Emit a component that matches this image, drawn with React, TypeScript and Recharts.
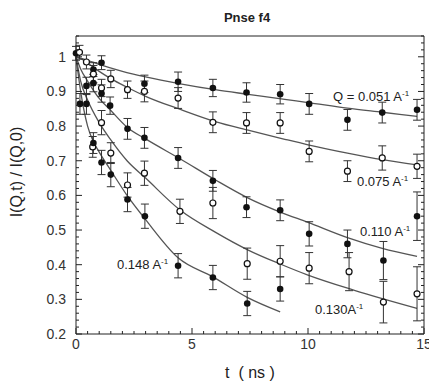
import React from 'react'
import { ComposedChart, XAxis, YAxis, Line, Scatter, ErrorBar } from 'recharts'

// measured points: t (ns), I(Q,t)/I(Q,0), error
const q051T = [0, 0.75, 1.1, 2.95, 4.4, 5.9, 7.35, 8.8, 10.05, 11.7, 13.2, 14.7]
const q051V = [1.01, 0.963, 0.983, 0.922, 0.928, 0.91, 0.897, 0.892, 0.864, 0.818, 0.839, 0.847]
const q051E = [0.02, 0.02, 0.02, 0.025, 0.028, 0.025, 0.028, 0.028, 0.03, 0.03, 0.03, 0.03]

const q075T = [0.15, 0.45, 0.75, 1.1, 1.5, 2.22, 2.95, 4.4, 5.9, 7.35, 8.8, 10.05, 11.7, 13.2, 14.7]
const q075V = [1.013, 0.985, 0.95, 0.91, 0.936, 0.905, 0.9, 0.881, 0.811, 0.809, 0.809, 0.727, 0.67, 0.708, 0.684]
const q075E = [0.02, 0.02, 0.025, 0.025, 0.025, 0.025, 0.03, 0.03, 0.03, 0.03, 0.03, 0.03, 0.03, 0.035, 0.035]

const q110T = [0.45, 0.75, 1.1, 1.47, 2.22, 2.95, 4.4, 5.9, 7.35, 8.8, 10.05, 11.7, 13.25, 14.7]
const q110V = [0.916, 0.924, 0.894, 0.859, 0.792, 0.766, 0.708, 0.642, 0.566, 0.557, 0.489, 0.46, 0.412, 0.54]
const q110E = [0.025, 0.025, 0.025, 0.025, 0.03, 0.03, 0.03, 0.03, 0.03, 0.03, 0.035, 0.04, 0.055, 0.07]

const q130T = [0.72, 1.1, 1.5, 2.22, 2.95, 4.48, 5.9, 7.38, 8.8, 10.05, 11.77, 13.25, 14.7]
const q130V = [0.74, 0.81, 0.722, 0.63, 0.664, 0.554, 0.578, 0.403, 0.41, 0.39, 0.38, 0.292, 0.316]
const q130E = [0.03, 0.035, 0.03, 0.035, 0.035, 0.035, 0.045, 0.045, 0.045, 0.045, 0.055, 0.06, 0.078]

const q148T = [0.17, 0.45, 0.75, 1.1, 1.5, 2.22, 2.97, 4.4, 5.9, 7.38, 8.8]
const q148V = [0.864, 0.864, 0.751, 0.695, 0.66, 0.588, 0.54, 0.397, 0.363, 0.288, 0.33]
const q148E = [0.03, 0.03, 0.03, 0.035, 0.035, 0.035, 0.035, 0.035, 0.035, 0.035, 0.035]

// fitted curves
const fit051T = [0, 0.5, 1, 2, 3, 4.5, 6, 7.5, 9, 10, 11.7, 13.2, 14.7]
const fit051V = [1.0, 0.99, 0.978, 0.958, 0.942, 0.922, 0.905, 0.891, 0.877, 0.868, 0.852, 0.84, 0.828]
const fit075T = [0, 0.2, 0.5, 1, 1.5, 2.2, 3, 4.5, 6, 7.5, 9, 10, 11.7, 13.2, 14.7]
const fit075V = [1.0, 0.995, 0.982, 0.958, 0.937, 0.912, 0.886, 0.848, 0.813, 0.787, 0.762, 0.746, 0.722, 0.703, 0.688]
const fit110T = [0, 0.2, 0.5, 1, 1.5, 2.2, 3, 4.5, 6, 7.4, 8.8, 10, 11.7, 13.2, 14.7]
const fit110V = [1.0, 0.965, 0.93, 0.88, 0.845, 0.797, 0.763, 0.705, 0.645, 0.593, 0.552, 0.522, 0.478, 0.447, 0.424]
const fit130T = [0, 0.2, 0.5, 1, 1.5, 2.2, 3, 4.5, 6, 7.4, 8.8, 10, 12, 14.7]
const fit130V = [1.0, 0.93, 0.875, 0.81, 0.76, 0.7, 0.65, 0.557, 0.494, 0.443, 0.402, 0.37, 0.326, 0.274]
const fit148T = [0, 0.2, 0.5, 0.75, 1, 1.5, 2.2, 3, 4.4, 5.9, 7.4, 8.8]
const fit148V = [1.0, 0.9, 0.8, 0.755, 0.725, 0.672, 0.6, 0.53, 0.42, 0.365, 0.305, 0.264]

const xMajor = [0, 5, 10, 15]
const yMajor = [0.2, 0.3, 0.4, 0.5, 0.6, 0.7, 0.8, 0.9, 1]

const xTicks = Array.from({ length: 31 }, (_, i) => i / 2)
const yTicks = Array.from({ length: 44 }, (_, i) => Math.round(20 + i * 2) / 100)

const pts = (t: number[], v: number[], e: number[]) => t.map((x, i) => ({ t: x, v: v[i], e: e[i] }))
const curve = (t: number[], v: number[]) => t.map((x, i) => ({ t: x, v: v[i] }))

const ink = '#222'
const fitColor = '#555'

const isMajorX = (v: number) => xMajor.includes(v)
const isMajorY = (v: number) => yMajor.some((m) => Math.abs(m - v) < 1e-6)

const BottomTick = (p: any) => {
  const major = isMajorX(p.payload.value)
  return (
    <g>
      <line x1={p.x} x2={p.x} y1={p.y} y2={p.y - (major ? 6 : 3)} stroke={ink} />
      {major && (
        <text x={p.x} y={p.y + 15} textAnchor="middle" fontSize={14} fill="#333">
          {p.payload.value}
        </text>
      )}
    </g>
  )
}
const TopTick = (p: any) => {
  const major = isMajorX(p.payload.value)
  return <line x1={p.x} x2={p.x} y1={p.y} y2={p.y + (major ? 6 : 3)} stroke={ink} />
}
const LeftTick = (p: any) => {
  const v = p.payload.value
  const major = isMajorY(v)
  return (
    <g>
      <line x1={p.x} x2={p.x + (major ? 6 : 3)} y1={p.y} y2={p.y} stroke={ink} />
      {major && (
        <text x={p.x - 10} y={p.y + 5} textAnchor="end" fontSize={14} fill="#333">
          {Math.abs(v - 1) < 1e-6 ? '1' : v.toFixed(1)}
        </text>
      )}
    </g>
  )
}
const RightTick = (p: any) => {
  const major = isMajorY(p.payload.value)
  return <line x1={p.x} x2={p.x - (major ? 6 : 3)} y1={p.y} y2={p.y} stroke={ink} />
}

const filled = (p: any) => <circle cx={p.cx} cy={p.cy} r={3.3} fill="#111" />
const open = (p: any) => <circle cx={p.cx} cy={p.cy} r={3} fill="#fff" stroke="#111" strokeWidth={1.2} />

const Label = ({ left, top, text }: { left: number; top: number; text: string }) => (
  <div style={{ position: 'absolute', left, top, fontSize: 13, lineHeight: 1, color: '#222', whiteSpace: 'nowrap' }}>
    {text}
    <span style={{ fontSize: 8, position: 'relative', top: -5 }}>-1</span>
  </div>
)

export default function App() {
  const fits = [
    curve(fit051T, fit051V),
    curve(fit075T, fit075V),
    curve(fit110T, fit110V),
    curve(fit130T, fit130V),
    curve(fit148T, fit148V),
  ]
  const series = [
    { d: pts(q051T, q051V, q051E), shape: filled },
    { d: pts(q075T, q075V, q075E), shape: open },
    { d: pts(q110T, q110V, q110E), shape: filled },
    { d: pts(q130T, q130V, q130E), shape: open },
    { d: pts(q148T, q148V, q148E), shape: filled },
  ]

  return (
    <div
      style={{
        position: 'absolute',
        left: 0,
        top: 0,
        width: 429,
        height: 382,
        background: '#fff',
        fontFamily: '"Liberation Sans", Arial, sans-serif',
      }}
    >
      <ComposedChart width={429} height={382} margin={{ top: 0, right: 0, bottom: 0, left: 0 }}>
        <XAxis
          xAxisId="b"
          dataKey="t"
          type="number"
          domain={[0, 15]}
          ticks={xTicks}
          interval={0}
          height={48}
          tickSize={0}
          tickMargin={0}
          tick={BottomTick}
          stroke={ink}
        />
        <XAxis
          xAxisId="top"
          orientation="top"
          dataKey="t"
          type="number"
          domain={[0, 15]}
          ticks={xTicks}
          interval={0}
          height={36}
          tickSize={0}
          tickMargin={0}
          tick={TopTick}
          stroke={ink}
        />
        <YAxis
          yAxisId="l"
          type="number"
          domain={[0.2, 1.06]}
          ticks={yTicks}
          interval={0}
          width={76}
          tickSize={0}
          tickMargin={0}
          tick={LeftTick}
          stroke={ink}
          allowDataOverflow
        />
        <YAxis
          yAxisId="r"
          orientation="right"
          type="number"
          domain={[0.2, 1.06]}
          ticks={yTicks}
          interval={0}
          width={5}
          tickSize={0}
          tickMargin={0}
          tick={RightTick}
          stroke={ink}
          allowDataOverflow
        />
        {fits.map((f, i) => (
          <Line
            key={'f' + i}
            data={f}
            dataKey="v"
            xAxisId="b"
            yAxisId="l"
            type="monotone"
            dot={false}
            stroke={fitColor}
            strokeWidth={1.3}
            isAnimationActive={false}
          />
        ))}
        {series.map((s, i) => (
          <Scatter
            key={'s' + i}
            data={s.d}
            dataKey="v"
            xAxisId="b"
            yAxisId="l"
            shape={s.shape}
            isAnimationActive={false}
          >
            <ErrorBar dataKey="e" direction="y" width={4} stroke="#333" strokeWidth={1} />
          </Scatter>
        ))}
      </ComposedChart>

      <div style={{ position: 'absolute', left: 247, top: 10, transform: 'translateX(-50%)', fontSize: 13, fontWeight: 'bold', color: '#222' }}>
        Pnse f4
      </div>
      <div
        style={{
          position: 'absolute',
          left: 17,
          top: 172,
          transform: 'translate(-50%, -50%) rotate(-90deg)',
          fontSize: 16,
          color: '#222',
          whiteSpace: 'nowrap',
        }}
      >
        I(Q,t) / I(Q,0)
      </div>
      <div style={{ position: 'absolute', left: 250, top: 364, transform: 'translateX(-50%)', fontSize: 16, color: '#222', whiteSpace: 'pre' }}>
        {'t  ( ns )'}
      </div>

      <Label left={333} top={90} text="Q = 0.051 A" />
      <Label left={357} top={175} text="0.075 A" />
      <Label left={360} top={225} text="0.110 A" />
      <Label left={117} top={258} text="0.148 A" />
      <Label left={315} top={303} text="0.130A" />
    </div>
  )
}
